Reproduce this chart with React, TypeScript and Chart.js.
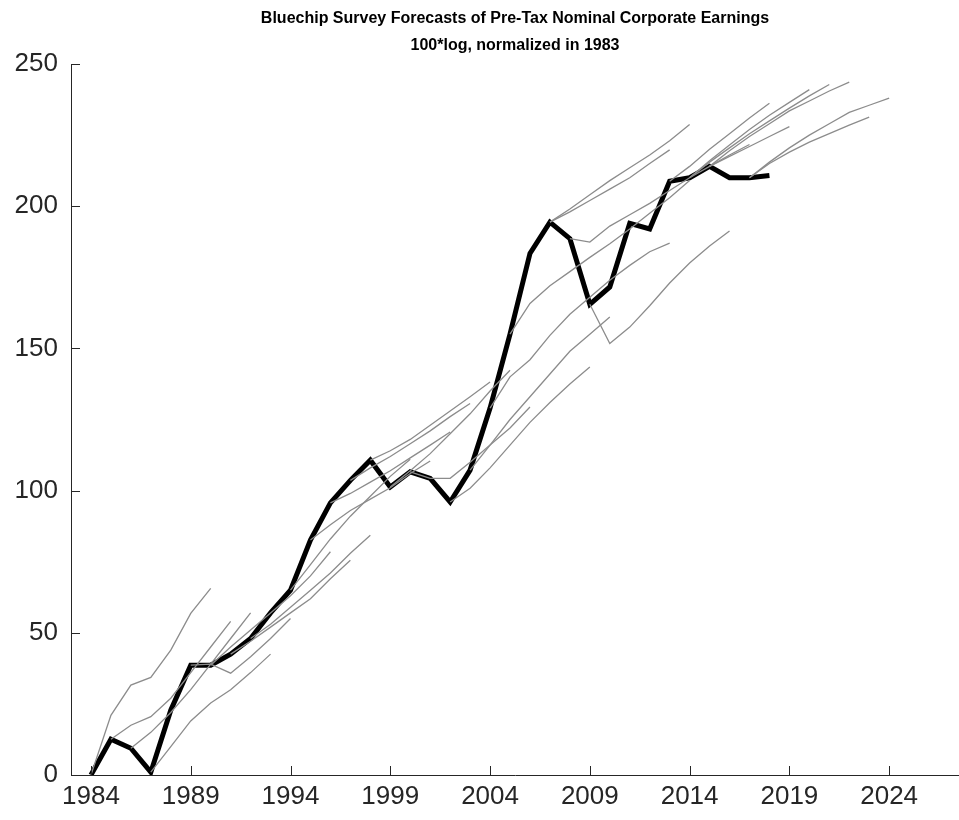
import React, { useEffect, useRef } from "react";
import { Chart, registerables } from "chart.js";

Chart.register(...registerables);

// ---- data ----
const titleLines = [
  "Bluechip Survey Forecasts of Pre-Tax Nominal Corporate Earnings",
  "100*log, normalized in 1983",
];
const xTickYears = [1984, 1989, 1994, 1999, 2004, 2009, 2014, 2019, 2024];
const yTickValues = [0, 50, 100, 150, 200, 250];

const actualStart = 1984;
const actualValues = [
  0, 12.6, 9.4, 1, 22.8, 38.6, 38.6, 42.5, 48, 57, 65, 82.6, 95.7, 103.6, 110.7,
  101.3, 106.6, 104.3, 96, 107.2, 129, 155, 183.4, 194.4, 188.6, 165.5, 171.6,
  194, 192, 208.8, 210, 214, 210, 210, 210.8,
];

// forecasts: each list starts in the given year
const fc1984 = [0, 21, 31.6, 34.3, 43.9, 56.8, 65.6];
const fc1985 = [12.6, 17.5, 20.5, 27, 36, 45, 54];
const fc1986 = [9.4, 15, 22, 30, 39, 48, 57];
const fc1987 = [1, 10, 19, 25.3, 30, 36, 42.5];
const fc1989 = [38.6, 39, 35.8, 41.6, 48, 55];
const fc1990 = [38.6, 45, 51, 57, 63, 70, 78.5];
const fc1991 = [42.5, 47, 52, 57, 62, 69, 75.5];
const fc1992 = [48, 53, 59, 65, 71, 78, 84.3];
const fc1994 = [65, 74, 83, 91, 98, 105, 111];
const fc1995 = [82.6, 88, 93, 97, 101, 106, 110.4];
const fc1996 = [95.7, 99, 103, 107, 111.5, 116, 120.6];
const fc1997 = [103.6, 108, 112, 116.5, 121, 126, 130.6];
const fc1998 = [110.7, 114, 118, 123, 128, 133, 138.2];
const fc1999 = [101.3, 107, 113, 120, 127, 135, 142.3];
const fc2000 = [106.6, 104.3, 104.3, 110, 116, 122, 129.4];
const fc2002 = [96, 100.8, 108, 116, 124, 131, 137.5, 143.5];
const fc2003 = [107.2, 116, 125, 133, 141, 149, 155, 161];
const fc2004 = [129, 140, 146, 154.6, 162, 168, 174, 179.2, 184, 187];
const fc2005 = [155, 165.8, 172, 177, 182, 186.8, 192, 197.5, 203, 209];
const fc2007a = [194.4, 199, 204, 209, 213.5, 218, 223, 228.7];
const fc2007b = [194.4, 198, 202, 206, 210, 215, 219.8];
const fc2008 = [188.6, 187.4, 193, 197, 201, 205.5, 210, 214, 218, 221.7];
const fc2009 = [165.5, 151.7, 157.5, 165, 173, 180, 186, 191.3];
const fc2013 = [208.8, 214, 220, 225.5, 231, 236.2];
const fc2014a = [210, 216, 221.5, 227, 232, 236.5, 241];
const fc2014b = [210, 215.5, 220.5, 225.5, 230, 234.5, 238.8, 242.8];
const fc2015a = [214, 219.5, 224.5, 229, 233.5, 237, 240.5, 243.6];
const fc2015b = [214, 217.5, 221, 224.5, 228];
const fc2017a = [210, 215, 219, 222.5, 225.5, 228.5, 231.3];
const fc2017b = [210, 215.5, 220.5, 225, 229, 233, 235.5, 238];

const forecastList: [number, number[]][] = [
  [1984, fc1984], [1985, fc1985], [1986, fc1986], [1987, fc1987],
  [1989, fc1989], [1990, fc1990], [1991, fc1991], [1992, fc1992],
  [1994, fc1994], [1995, fc1995], [1996, fc1996], [1997, fc1997],
  [1998, fc1998], [1999, fc1999], [2000, fc2000], [2002, fc2002],
  [2003, fc2003], [2004, fc2004], [2005, fc2005], [2007, fc2007a],
  [2007, fc2007b], [2008, fc2008], [2009, fc2009], [2013, fc2013],
  [2014, fc2014a], [2014, fc2014b], [2015, fc2015a], [2015, fc2015b],
  [2017, fc2017a], [2017, fc2017b],
];

const toPoints = (start: number, vals: number[]) =>
  vals.map((v, i) => ({ x: start + i, y: v }));

const AXIS_COLOR = "#262626";
const FONT = "'Liberation Sans', Arial, Helvetica, sans-serif";

const decorPlugin = {
  id: "decor",
  afterDraw(chart: any) {
    const { ctx, chartArea, scales } = chart;
    ctx.save();
    // inward ticks
    ctx.strokeStyle = AXIS_COLOR;
    ctx.lineWidth = 1;
    const tl = 9;
    xTickYears.forEach((yr) => {
      const x = Math.round(scales.x.getPixelForValue(yr)) + 0.5;
      ctx.beginPath();
      ctx.moveTo(x, chartArea.bottom);
      ctx.lineTo(x, chartArea.bottom - tl);
      ctx.stroke();
    });
    yTickValues.forEach((v) => {
      const y = Math.round(scales.y.getPixelForValue(v)) + 0.5;
      ctx.beginPath();
      ctx.moveTo(chartArea.left, y);
      ctx.lineTo(chartArea.left + tl, y);
      ctx.stroke();
    });
    // title
    ctx.fillStyle = "#000";
    ctx.font = `bold 16px ${FONT}`;
    ctx.textAlign = "center";
    ctx.textBaseline = "middle";
    const cx = (chartArea.left + chartArea.right) / 2;
    ctx.fillText(titleLines[0], cx, 19);
    ctx.fillText(titleLines[1], cx, 46);
    ctx.restore();
  },
};

export default function App() {
  const ref = useRef<HTMLCanvasElement | null>(null);
  useEffect(() => {
    if (!ref.current) return;
    const datasets: any[] = forecastList.map(([s, vals], i) => ({
      label: "f" + i,
      data: toPoints(s, vals),
      borderColor: "#8c8c8c",
      borderWidth: 1.3,
      pointRadius: 0,
      tension: 0,
      order: 0,
    }));
    datasets.push({
      label: "actual",
      data: toPoints(actualStart, actualValues),
      borderColor: "#000000",
      borderWidth: 5,
      pointRadius: 0,
      tension: 0,
      borderJoinStyle: "miter",
      order: 1,
    });
    const chart = new Chart(ref.current, {
      type: "line",
      data: { datasets },
      plugins: [decorPlugin],
      options: {
        animation: false,
        responsive: false,
        maintainAspectRatio: false,
        layout: { padding: { top: 64, left: 0, right: 0, bottom: 0 } },
        plugins: { legend: { display: false }, tooltip: { enabled: false }, title: { display: false } },
        scales: {
          x: {
            type: "linear",
            min: 1983,
            max: 2027.5,
            grid: { display: false, drawTicks: false },
            border: { display: true, color: AXIS_COLOR, width: 1 },
            afterBuildTicks: (scale: any) => {
              scale.ticks = xTickYears.map((v) => ({ value: v }));
            },
            afterFit: (scale: any) => {
              scale.height = 45;
            },
            ticks: {
              color: AXIS_COLOR,
              font: { family: FONT, size: 26 },
              padding: 6,
              maxRotation: 0,
              autoSkip: false,
              callback: (v: any) => String(v),
            },
          },
          y: {
            type: "linear",
            min: 0,
            max: 250,
            grid: { display: false, drawTicks: false },
            border: { display: true, color: AXIS_COLOR, width: 1 },
            afterBuildTicks: (scale: any) => {
              scale.ticks = yTickValues.map((v) => ({ value: v }));
            },
            afterFit: (scale: any) => {
              scale.width = 71;
            },
            ticks: {
              color: AXIS_COLOR,
              font: { family: FONT, size: 26 },
              padding: 13,
              callback: (v: any) => String(v),
            },
          },
        },
      },
    });
    return () => chart.destroy();
  }, []);
  return (
    <div style={{ position: "absolute", left: 0, top: 0, width: 959, height: 820 }}>
      <canvas ref={ref} width={959} height={820} style={{ width: 959, height: 820 }} />
    </div>
  );
}
